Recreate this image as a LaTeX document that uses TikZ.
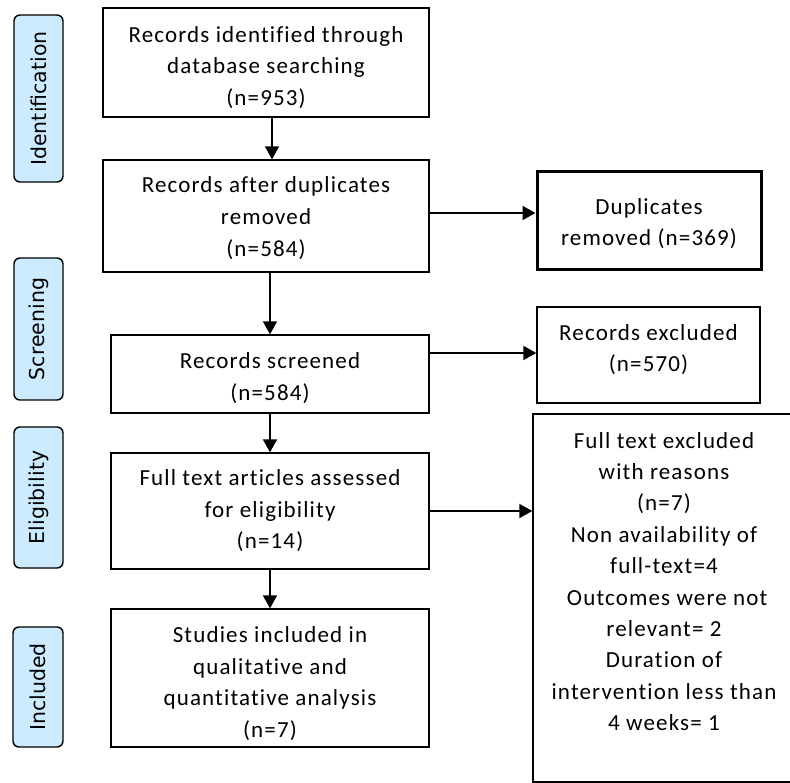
\documentclass[tikz,border=0pt]{standalone}
\usepackage{fontspec}
\setmainfont{Carlito}[Ligatures=NoCommon, LetterSpace=5]
\newfontfamily\labfont{DejaVu Sans}
\usetikzlibrary{arrows.meta}
\definecolor{lblue}{RGB}{205,235,255}
\newcommand{\upstrut}[1]{\rule{0pt}{#1}}
\newcommand{\dnstrut}[1]{\rule[-#1]{0pt}{0pt}}
\begin{document}
\begin{tikzpicture}[x=1pt,y=-1pt,
  box/.style={draw=black, line width=1.4pt, inner sep=0pt, align=center,
    font=\fontsize{23}{31.6}\selectfont, text=black},
  side/.style={draw=black, line width=1.4pt, fill=lblue, rounded corners=6pt,
    rotate=90, font=\labfont\fontsize{20.5}{24}\selectfont, inner sep=0pt},
  arr/.style={line width=2pt, -{Triangle[length=13pt,width=14pt]}}]
\useasboundingbox (0,0) rectangle (790,783);

% side labels
\node[side, minimum width=167pt, minimum height=49pt] (sid) at (38.5,98.5) {Identification};
\node[side, minimum width=142pt, minimum height=49pt] (ssc) at (38.5,329) {Screening};
\node[side, minimum width=141pt, minimum height=49pt] (sel) at (38.5,497.5) {Eligibility};
\node[side, minimum width=120pt, minimum height=50pt] (sin) at (38,687) {Included};

% main boxes
\node[box, minimum width=326pt, minimum height=109pt] (b1) at (266,62.5)
  {\upstrut{26pt}Records identified through\\database searching\\(n=953)};
\node[box, minimum width=326pt, minimum height=112pt] (b2) at (266,216)
  {\upstrut{20pt}Records after duplicates\\removed\\(n=584)};
\node[box, line width=3pt, minimum width=224pt, minimum height=98pt] (dup) at (649,221)
  {\upstrut{21pt}Duplicates\\removed (n=369)};
\node[box, minimum width=318pt, minimum height=78pt] (b3) at (270,374)
  {\upstrut{24pt}Records screened\\(n=584)};
\node[box, minimum width=223pt, minimum height=96pt] (rex) at (648.5,355)
  {Records excluded\\(n=570)\dnstrut{14pt}};
\node[box, minimum width=318pt, minimum height=116pt] (b4) at (270,511)
  {Full text articles assessed\\for eligibility\\(n=14)};
\node[box, minimum width=318pt, minimum height=138pt] (b5) at (270,678)
  {\upstrut{27pt}Studies included in\\qualitative and\\quantitative analysis\\(n=7)};
\node[box, minimum width=270pt, minimum height=368pt] (ft) at (668,598) {};
\node[align=center, inner sep=0pt, anchor=north,
  font=\fontsize{23}{31.4}\selectfont] (fttext) at (664,432)
  {Full text excluded\\with reasons\\(n=7)\\Non availability of\\full-text=4\\
   \ Outcomes were not\\relevant= 2\\Duration of\\intervention less than\\4 weeks= 1};

% arrows
\draw[arr] ([xshift=6pt]b1.south) -- ([xshift=6pt]b1.south |- b2.north);
\draw[arr] (b3.north |- b2.south) -- (b3.north);
\draw[arr] (b3.south) -- (b4.north);
\draw[arr] (b4.south) -- (b5.north);
\draw[arr] ([yshift=3pt]b2.east) -- ([yshift=3pt]b2.east -| dup.west);
\draw[arr] ([yshift=21pt]b3.east) -- ([yshift=21pt]b3.east -| rex.west);
\draw[arr] (b4.east) -- (b4.east -| ft.west);
\end{tikzpicture}
\end{document}
